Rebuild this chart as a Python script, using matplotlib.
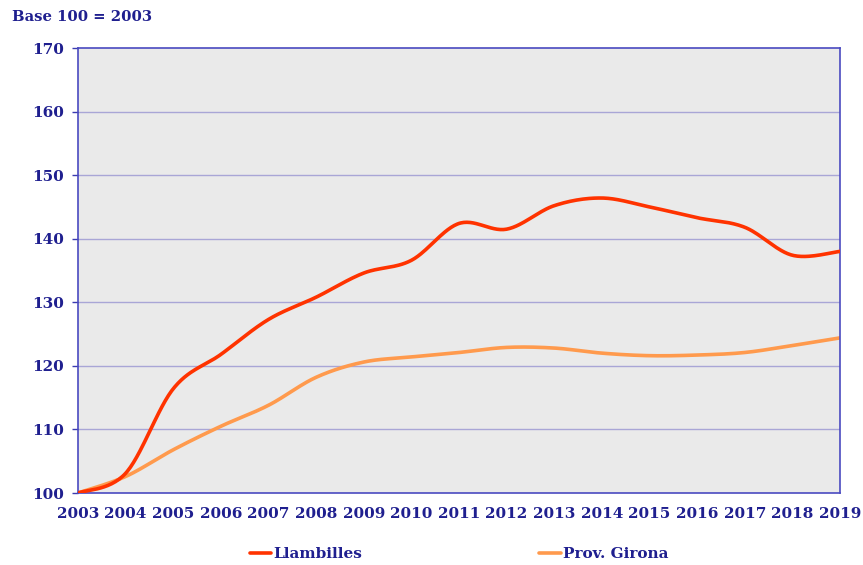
import numpy as np
import matplotlib
matplotlib.use("Agg")
import matplotlib.pyplot as plt

years = list(range(2003, 2020))
llambilles = [100, 103.1, 116.4, 121.8, 127.3, 130.8, 134.6, 136.6, 142.4, 141.5,
              145.2, 146.4, 145.0, 143.3, 141.8, 137.4, 138.0]
girona = [100, 102.6, 106.8, 110.5, 113.8, 118.2, 120.6, 121.4, 122.1, 122.9,
          122.8, 122.0, 121.6, 121.7, 122.1, 123.2, 124.4]
yticks = [100, 110, 120, 130, 140, 150, 160, 170]

def smooth(x, y, n=30):
    x = np.asarray(x, float); y = np.asarray(y, float)
    xs, ys = [], []
    for i in range(len(x) - 1):
        p0 = (x[i-1], y[i-1]) if i > 0 else (x[i], y[i])
        p1 = (x[i], y[i]); p2 = (x[i+1], y[i+1])
        p3 = (x[i+2], y[i+2]) if i + 2 < len(x) else (x[i+1], y[i+1])
        c1 = (p1[0] + (p2[0]-p0[0])/6, p1[1] + (p2[1]-p0[1])/6)
        c2 = (p2[0] - (p3[0]-p1[0])/6, p2[1] - (p3[1]-p1[1])/6)
        t = np.linspace(0, 1, n, endpoint=(i == len(x)-2))
        for P, Q in [(xs, 0), (ys, 1)]:
            P.extend((1-t)**3*p1[Q] + 3*(1-t)**2*t*c1[Q] + 3*(1-t)*t**2*c2[Q] + t**3*p2[Q])
    return np.array(xs), np.array(ys)

navy = "#1f1f8f"
fig = plt.figure(figsize=(8.63, 5.65), dpi=100)
ax = fig.add_axes([78/863, 1-493/565, (840-78)/863, (493-48)/565])
ax.set_facecolor("#eaeaea")
for v in yticks[1:-1]:
    ax.axhline(v, color="#a9a6d6", lw=1.0, zorder=1)

fp = dict(family="DejaVu Serif", weight="bold", color=navy)
x1, y1 = smooth(years, llambilles)
x2, y2 = smooth(years, girona)
ax.plot(x1, y1, color="#ff3300", lw=2.6, label="Llambilles", zorder=3, solid_capstyle="round")
ax.plot(x2, y2, color="#ff9a4d", lw=2.6, label="Prov. Girona", zorder=2, solid_capstyle="round")

ax.set_xlim(2003, 2019)
ax.set_ylim(100, 170)
ax.set_yticks(yticks)
ax.set_yticklabels([str(v) for v in yticks], fontsize=11, **fp)
ax.set_xticks(years)
ax.set_xticklabels([str(v) for v in years], fontsize=11, **fp)
ax.tick_params(axis="y", length=4, color="#3b3bb0", pad=6, width=1)
ax.tick_params(axis="x", length=0, pad=10)
for s in ax.spines.values():
    s.set_color("#4a4ac0"); s.set_linewidth(1.2)

fig.text(12/863, 1-17/565, "Base 100 = 2003", fontsize=10.6, va="center", ha="left", **fp)

leg = fig.legend(loc="center", bbox_to_anchor=(459/863, 1-554/565), ncol=2, frameon=False,
                 handlelength=1.4, handletextpad=0.15, columnspacing=11.6,
                 prop=dict(family="DejaVu Serif", weight="bold", size=11))
for t in leg.get_texts():
    t.set_color(navy)
fig.savefig("out.png", dpi=100)
